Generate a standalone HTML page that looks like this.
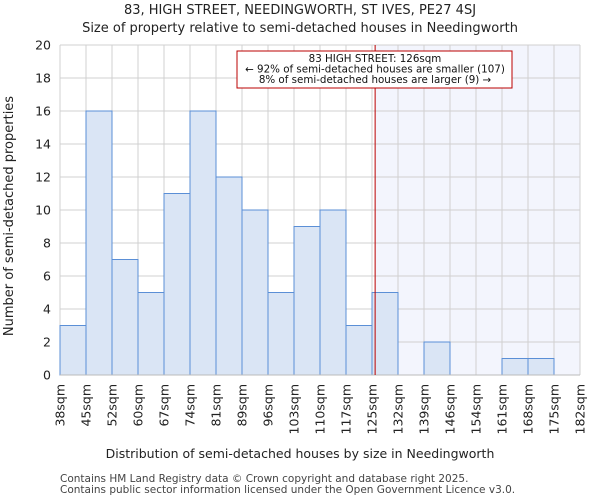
<!DOCTYPE html>
<html><head><meta charset="utf-8"><style>
body{margin:0;background:#fff;font-family:"DejaVu Sans","Liberation Sans",sans-serif}
</style></head><body>
<svg id="c" width="600" height="500" xmlns="http://www.w3.org/2000/svg" font-family="DejaVu Sans, Liberation Sans, sans-serif">
<text x="300" y="14" text-anchor="middle" font-size="13" fill="#222">83, HIGH STREET, NEEDINGWORTH, ST IVES, PE27 4SJ</text>
<text x="300" y="32" text-anchor="middle" font-size="13" fill="#222">Size of property relative to semi-detached houses in Needingworth</text>
<g id="plot"></g>
<text x="300" y="458" text-anchor="middle" font-size="12.5" fill="#222">Distribution of semi-detached houses by size in Needingworth</text>
<text transform="translate(13,216) rotate(-90)" text-anchor="middle" font-size="13" fill="#222">Number of semi-detached properties</text>
<text x="60" y="482" font-size="10.5" fill="#444">Contains HM Land Registry data © Crown copyright and database right 2025.</text>
<text x="60" y="493" font-size="10.5" fill="#444">Contains public sector information licensed under the Open Government Licence v3.0.</text>
</svg>
<script>
const categories=["38sqm","45sqm","52sqm","60sqm","67sqm","74sqm","81sqm","89sqm","96sqm","103sqm","110sqm","117sqm","125sqm","132sqm","139sqm","146sqm","154sqm","161sqm","168sqm","175sqm","182sqm"];
const counts=[3,16,7,5,11,16,12,10,5,9,10,3,5,0,2,0,0,1,1,0];
const yTicks=[0,2,4,6,8,10,12,14,16,18,20];
const markerBin=12.12;
const NS="http://www.w3.org/2000/svg";
const g=document.getElementById('plot');
const X0=60,X1=580,Y0=375,Y1=45,nb=counts.length;
const bw=(X1-X0)/nb;
const x=i=>X0+i*bw;
const y=v=>Y0-(v/20)*(Y0-Y1);
function el(t,a){const e=document.createElementNS(NS,t);for(const k in a)e.setAttribute(k,a[k]);g.appendChild(e);return e;}
const mx=x(markerBin);
let e=el('rect',{x:mx,y:Y1,width:X1-mx,height:Y0-Y1,fill:'#f3f5fd'});


yTicks.forEach(t=>{
 let l=el('line',{x1:X0,x2:X1,y1:y(t),y2:y(t),stroke:'#d0d0d0','stroke-width':1});
 
 
 let tx=el('text',{x:X0-9,y:y(t)+4.5,'text-anchor':'end','font-size':12.5,fill:'#222'});
 tx.textContent=t;
 
 
});
categories.forEach((c,i)=>{
 let l=el('line',{x1:x(i),x2:x(i),y1:Y1,y2:Y0,stroke:'#d0d0d0','stroke-width':1});
 
 
 let tx=el('text',{transform:`translate(${x(i)+4.5},${Y0+9}) rotate(-90)`,'text-anchor':'end','font-size':12.5,fill:'#222'});
 tx.textContent=c;
 
 
});
counts.forEach((v,i)=>{
 if(v<=0)return;
 let r=el('rect',{x:x(i),y:y(v),width:bw,height:Y0-y(v),fill:'#dae5f5',stroke:'#5b8fd6','stroke-width':1});
 
 
});
e=el('line',{x1:X0,x2:X1,y1:Y0,y2:Y0,stroke:'#bbb'});


e=el('line',{x1:mx,x2:mx,y1:Y1,y2:Y0,stroke:'#b00','stroke-width':1});


e=el('rect',{x:237,y:51,width:275,height:37,fill:'#fff',stroke:'#b00','stroke-width':1});


["83 HIGH STREET: 126sqm","← 92% of semi-detached houses are smaller (107)","8% of semi-detached houses are larger (9) →"].forEach((s,i)=>{
 let t=el('text',{x:375,y:62+i*10.5,'text-anchor':'middle','font-size':10.3,fill:'#111'});
 t.textContent=s;
 
 
});
</script>
</body></html>
